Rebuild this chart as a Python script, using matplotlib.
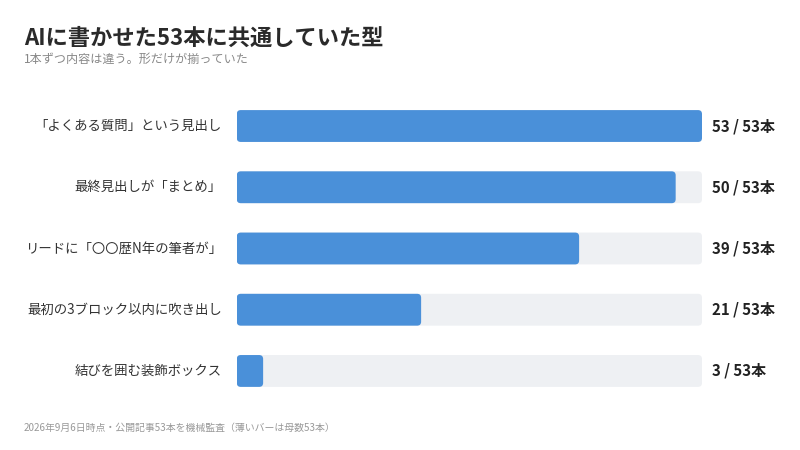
import matplotlib
matplotlib.use("Agg")
import matplotlib.pyplot as plt
from matplotlib.patches import FancyBboxPatch

plt.rcParams['font.family'] = ['Noto Sans CJK JP', 'DejaVu Sans']

title = "AIに書かせた53本に共通していた型"
subtitle = "1本ずつ内容は違う。形だけが揃っていた"
footer = "2026年9月6日時点・公開記事53本を機械監査（薄いバーは母数53本）"
categories = ["「よくある質問」という見出し", "最終見出しが「まとめ」",
              "リードに「〇〇歴N年の筆者が」", "最初の3ブロック以内に吹き出し",
              "結びを囲む装飾ボックス"]
counts = [53, 50, 39, 21, 3]
total = 53

BLUE = "#4a90d9"
TRACK = "#eef0f3"
TEXT = "#333333"

fig = plt.figure(figsize=(8, 4.5), dpi=100)
ax = fig.add_axes([0.296, 0.1076, 0.5815, 0.6804])
ax.set_xlim(0, total)
ax.set_ylim(len(categories) - 0.5, -0.5)
ax.axis("off")

h = 0.52
# pixels per data unit, for rounding corners evenly
px_x = 0.5815 * 800 / total
px_y = 0.6804 * 450 / len(categories)
aspect = px_x / px_y
r = 4 / px_x


def rbar(x0, w, y, color):
    p = FancyBboxPatch((x0, y - h / 2), w, h,
                       boxstyle=f"round,pad=0,rounding_size={min(r, w / 2)}",
                       mutation_aspect=aspect, fc=color, ec="none")
    ax.add_patch(p)


for i, (cat, c) in enumerate(zip(categories, counts)):
    rbar(0, total, i, TRACK)
    rbar(0, c, i, BLUE)
    ax.text(-1.7, i, cat, ha="right", va="center", fontsize=9.65, color=TEXT)
    ax.text(total + 1.1, i, f"{c} / {total}本", ha="left", va="center",
            fontsize=10.8, fontweight="bold", color="#222222")

fig.text(24 / 800, 1 - 38 / 450, title, fontsize=16, fontweight="bold",
         color="#2a2a2a", va="center", ha="left")
fig.text(24 / 800, 1 - 59.5 / 450, subtitle, fontsize=8.7, color="#888888",
         va="center", ha="left")
fig.text(24 / 800, 1 - 428 / 450, footer, fontsize=7.15, color="#999999",
         va="center", ha="left")

fig.savefig("out.png", dpi=100, facecolor="white")
